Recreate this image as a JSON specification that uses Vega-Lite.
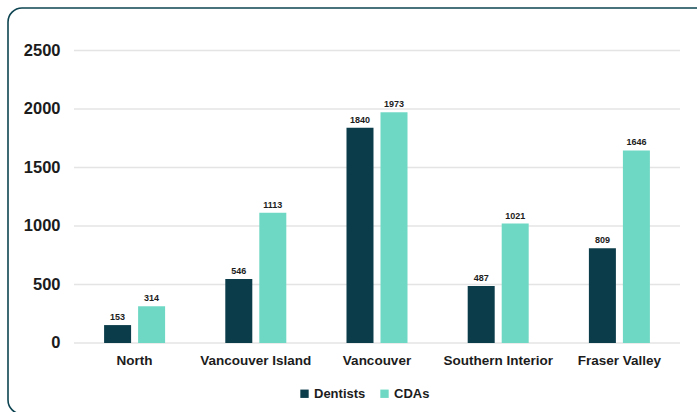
{
  "$schema": "https://vega.github.io/schema/vega-lite/v6.json",
  "usermeta": {"embedOptions": {"actions": false}},
  "autosize": {"type": "none"},
  "width": 702,
  "height": 406,
  "padding": {"left": 8, "top": 8, "right": -13, "bottom": -2},
  "background": "white",
  "config": {
    "view": {"stroke": "#0e4552", "strokeWidth": 1.6, "cornerRadius": 14},
    "font": "Liberation Sans"
  },
  "datasets": {
    "bars": [
      {"region": "North", "group": "Dentists", "value": 153},
      {"region": "North", "group": "CDAs", "value": 314},
      {"region": "Vancouver Island", "group": "Dentists", "value": 546},
      {"region": "Vancouver Island", "group": "CDAs", "value": 1113},
      {"region": "Vancouver", "group": "Dentists", "value": 1840},
      {"region": "Vancouver", "group": "CDAs", "value": 1973},
      {"region": "Southern Interior", "group": "Dentists", "value": 487},
      {"region": "Southern Interior", "group": "CDAs", "value": 1021},
      {"region": "Fraser Valley", "group": "Dentists", "value": 809},
      {"region": "Fraser Valley", "group": "CDAs", "value": 1646}
    ],
    "grid": [{"v": 0}, {"v": 500}, {"v": 1000}, {"v": 1500}, {"v": 2000}, {"v": 2500}]
  },
  "layer": [
    {
      "data": {"name": "grid"},
      "mark": {"type": "rule", "color": "#e4e4e4", "strokeWidth": 1.5},
      "encoding": {
        "x": {"datum": "North", "type": "nominal", "bandPosition": 0,
              "scale": {"domain": ["North", "Vancouver Island", "Vancouver", "Southern Interior", "Fraser Valley"], "paddingInner": 0, "paddingOuter": 0.396, "align": 0.6875}},
        "x2": {"datum": "Fraser Valley", "bandPosition": 1},
        "y": {"field": "v", "type": "quantitative",
              "scale": {"domain": [-607, 2863], "nice": false, "zero": false}}
      }
    },
    {
      "data": {"name": "bars"},
      "mark": {"type": "bar"},
      "encoding": {
        "x": {"field": "region", "type": "nominal",
              "scale": {"domain": ["North", "Vancouver Island", "Vancouver", "Southern Interior", "Fraser Valley"], "paddingInner": 0, "paddingOuter": 0.396, "align": 0.6875},
              "axis": {"title": null, "orient": "bottom", "offset": -71, "domain": false, "ticks": false, "labelAngle": 0, "labelAlign": "center",
                       "labelBaseline": "alphabetic", "labelPadding": 21, "labelFontSize": 13.5, "labelFontWeight": "bold", "labelColor": "#1c1c1c"}},
        "xOffset": {"field": "group", "type": "nominal", "sort": ["Dentists", "CDAs"],
                    "scale": {"paddingInner": 0.206, "paddingOuter": 0.885}},
        "y": {"field": "value", "type": "quantitative",
              "scale": {"domain": [-607, 2863], "nice": false, "zero": false},
              "axis": {"title": null, "orient": "left", "offset": -60, "values": [0, 500, 1000, 1500, 2000, 2500], "format": "d",
                       "grid": false, "domain": false, "ticks": false, "labelPadding": 8,
                       "labelFontSize": 16.5, "labelFontWeight": "bold", "labelColor": "#1c1c1c"}},
        "color": {"field": "group", "type": "nominal", "sort": ["Dentists", "CDAs"],
                  "scale": {"domain": ["Dentists", "CDAs"], "range": ["#0b3c4a", "#6fd8c4"]},
                  "legend": {"title": null, "orient": "none", "legendX": 290, "legendY": 379, "direction": "horizontal",
                             "symbolType": "square", "symbolSize": 70, "symbolStrokeWidth": 0, "symbolOpacity": 1,
                             "labelFontSize": 13, "labelFontWeight": "bold", "labelColor": "#1c1c1c", "columnPadding": 12, "labelOffset": 3}}
      }
    },
    {
      "data": {"name": "bars"},
      "mark": {"type": "text", "dy": -5, "baseline": "alphabetic", "fontSize": 9, "fontWeight": "bold", "color": "#1c1c1c"},
      "encoding": {
        "x": {"field": "region", "type": "nominal"},
        "xOffset": {"field": "group", "type": "nominal", "sort": ["Dentists", "CDAs"]},
        "y": {"field": "value", "type": "quantitative"},
        "text": {"field": "value", "type": "quantitative"}
      }
    }
  ]
}
